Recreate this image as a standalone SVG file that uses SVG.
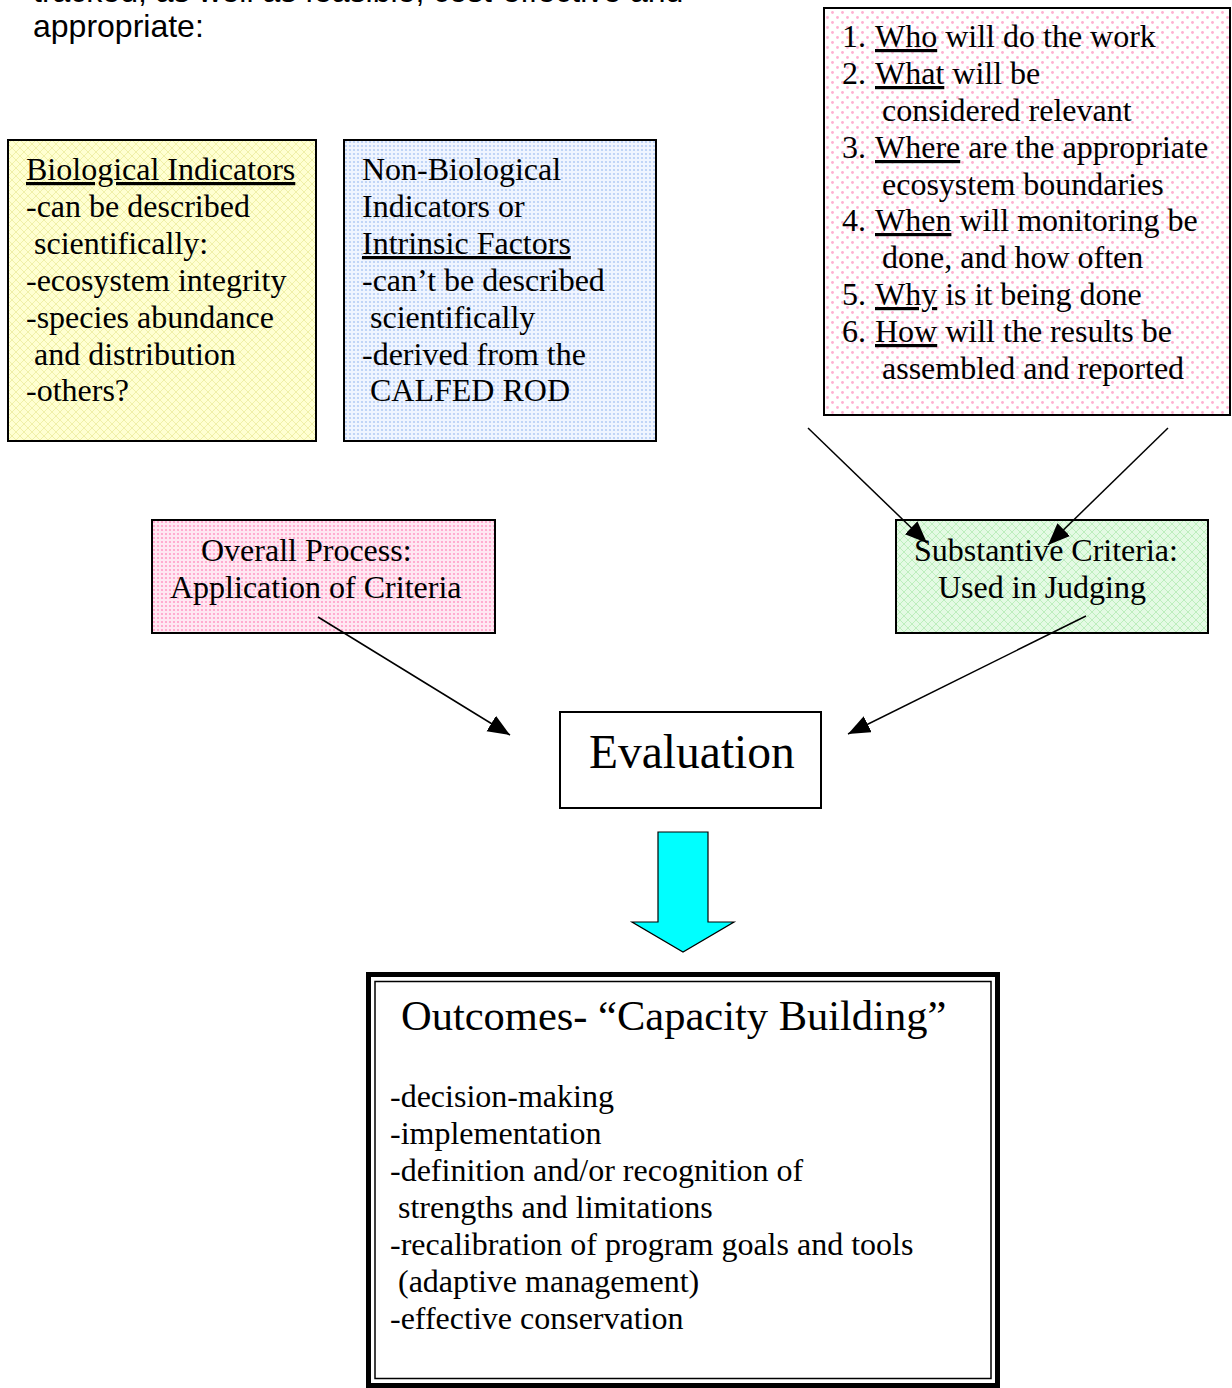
<svg xmlns="http://www.w3.org/2000/svg" width="1232" height="1388" viewBox="0 0 1232 1388">
<style>
.sans{font-family:"Liberation Sans",Arial,sans-serif;font-size:32px;fill:#000}
.serif{font-family:"Liberation Serif","Times New Roman",serif;font-size:32px;fill:#000}
.u{text-decoration:underline}
.box{stroke:#000;stroke-width:2}
.conn{stroke:#000;stroke-width:1.5;fill:none}
</style>
<defs>
<pattern id="pYellow" width="8" height="8" patternUnits="userSpaceOnUse">
<rect width="8" height="8" fill="#ffffd2"/>
<path d="M0,0 L8,8 M8,0 L0,8" stroke="#f0f0a8" stroke-width="1"/>
</pattern>
<pattern id="pGreen" width="8" height="8" patternUnits="userSpaceOnUse">
<rect width="8" height="8" fill="#e4fae4"/>
<path d="M0,0 L8,8 M8,0 L0,8" stroke="#bdeebd" stroke-width="1"/>
</pattern>
<pattern id="pBlue" width="4" height="4" patternUnits="userSpaceOnUse">
<rect width="4" height="4" fill="#f0f5ff"/>
<circle cx="2" cy="2" r="1.1" fill="#b5cdf5"/>
</pattern>
<pattern id="pPinkDots" width="10" height="10" patternUnits="userSpaceOnUse">
<rect width="10" height="10" fill="#fff"/>
<circle cx="2.5" cy="2.5" r="1.4" fill="#ffb0d2"/>
<circle cx="7.5" cy="7.5" r="1.4" fill="#ffb0d2"/>
</pattern>
<pattern id="pPinkDense" width="4" height="4" patternUnits="userSpaceOnUse">
<rect width="4" height="4" fill="#ffe8f2"/>
<circle cx="2" cy="2" r="1.1" fill="#ff9ec8"/>
</pattern>
<marker id="ah" markerUnits="userSpaceOnUse" markerWidth="24" markerHeight="20" refX="22" refY="9" orient="auto">
<path d="M0,0 L22,9 L0,18 Z" fill="#000"/>
</marker>
</defs>
<rect width="1232" height="1388" fill="#fff"/>

<g id="intro">
<text class="sans" x="33" y="2">tracked, as well as feasible, cost-effective and</text>
<text class="sans" x="33" y="37">appropriate:</text>
</g>

<g id="bio">
<rect class="box" x="8" y="140" width="308" height="301" fill="url(#pYellow)"/>
<text class="serif">
<tspan x="26" y="180" class="u">Biological Indicators</tspan>
<tspan x="26" y="217">-can be described</tspan>
<tspan x="34" y="254">scientifically:</tspan>
<tspan x="26" y="291">-ecosystem integrity</tspan>
<tspan x="26" y="328">-species abundance</tspan>
<tspan x="34" y="365">and distribution</tspan>
<tspan x="26" y="401">-others?</tspan>
</text>
</g>

<g id="nonbio">
<rect class="box" x="344" y="140" width="312" height="301" fill="url(#pBlue)"/>
<text class="serif">
<tspan x="362" y="180">Non-Biological</tspan>
<tspan x="362" y="217">Indicators or</tspan>
<tspan x="362" y="254" class="u">Intrinsic Factors</tspan>
<tspan x="362" y="291">-can’t be described</tspan>
<tspan x="370" y="328">scientifically</tspan>
<tspan x="362" y="365">-derived from the</tspan>
<tspan x="370" y="401">CALFED ROD</tspan>
</text>
</g>

<g id="questions">
<rect class="box" x="824" y="8" width="406" height="407" fill="url(#pPinkDots)"/>
<text class="serif">
<tspan x="842" y="47">1.</tspan><tspan x="875" y="47" class="u">Who</tspan><tspan> will do the work</tspan>
<tspan x="842" y="84">2.</tspan><tspan x="875" y="84" class="u">What</tspan><tspan> will be</tspan>
<tspan x="882" y="121">considered relevant</tspan>
<tspan x="842" y="158">3.</tspan><tspan x="875" y="158" class="u">Where</tspan><tspan> are the appropriate</tspan>
<tspan x="882" y="195">ecosystem boundaries</tspan>
<tspan x="842" y="231">4.</tspan><tspan x="875" y="231" class="u">When</tspan><tspan> will monitoring be</tspan>
<tspan x="882" y="268">done, and how often</tspan>
<tspan x="842" y="305">5.</tspan><tspan x="875" y="305" class="u">Why</tspan><tspan> is it being done</tspan>
<tspan x="842" y="342">6.</tspan><tspan x="875" y="342" class="u">How</tspan><tspan> will the results be</tspan>
<tspan x="882" y="379">assembled and reported</tspan>
</text>
</g>

<g id="overall">
<rect class="box" x="152" y="520" width="343" height="113" fill="url(#pPinkDense)"/>
<text class="serif">
<tspan x="201" y="561">Overall Process:</tspan>
<tspan x="170" y="598">Application of Criteria</tspan>
</text>
</g>

<g id="substantive">
<rect class="box" x="896" y="520" width="312" height="113" fill="url(#pGreen)"/>
<text class="serif">
<tspan x="914" y="561">Substantive Criteria:</tspan>
<tspan x="938" y="598">Used in Judging</tspan>
</text>
</g>

<g id="evaluation">
<rect class="box" x="560" y="712" width="261" height="96" fill="#fff"/>
<text class="serif" x="589" y="768" style="font-size:47.5px">Evaluation</text>
</g>

<g id="bigarrow">
<path d="M658,832 L708,832 L708,922 L734,922 L683,952 L632,922 L658,922 Z" fill="#00ffff" stroke="#000" stroke-width="1.2"/>
</g>

<g id="outcomes">
<rect x="368.5" y="974.5" width="629" height="411" fill="#fff" stroke="#000" stroke-width="5"/>
<rect x="375" y="981.5" width="616" height="397" fill="none" stroke="#000" stroke-width="1.5"/>
<text class="serif" x="401" y="1030" style="font-size:42.5px">Outcomes- “Capacity Building”</text>
<text class="serif">
<tspan x="390" y="1107">-decision-making</tspan>
<tspan x="390" y="1144">-implementation</tspan>
<tspan x="390" y="1181">-definition and/or recognition of</tspan>
<tspan x="398" y="1218">strengths and limitations</tspan>
<tspan x="390" y="1255">-recalibration of program goals and tools</tspan>
<tspan x="398" y="1292">(adaptive management)</tspan>
<tspan x="390" y="1329">-effective conservation</tspan>
</text>
</g>

<g id="connectors">
<line class="conn" x1="318" y1="617" x2="510" y2="735" marker-end="url(#ah)"/>
<line class="conn" x1="808" y1="428" x2="927" y2="543" marker-end="url(#ah)"/>
<line class="conn" x1="1168" y1="428" x2="1048" y2="545" marker-end="url(#ah)"/>
<line class="conn" x1="1086" y1="616" x2="848" y2="734" marker-end="url(#ah)"/>
</g>
</svg>
